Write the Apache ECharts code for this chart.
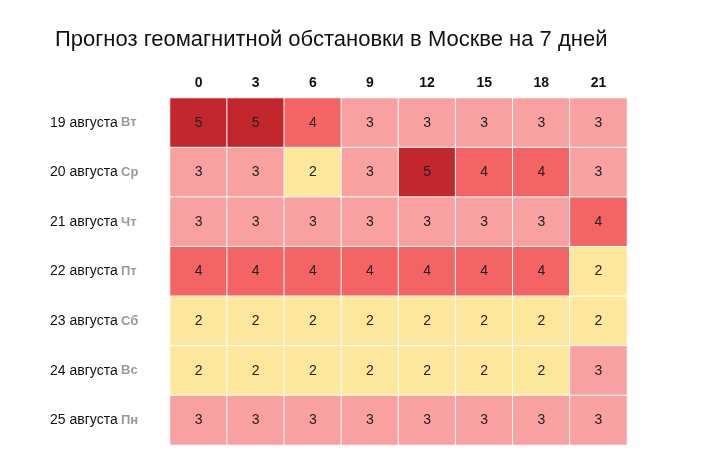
<!DOCTYPE html>
<html lang="ru">
<head>
<meta charset="UTF-8">
<title>Геомагнитная обстановка</title>
<script src="https://cdn.jsdelivr.net/npm/echarts@6/dist/echarts.min.js"></script>
</head>
<body style="margin:0">
<div id="main" style="width:720px;height:469px"></div>
<script>
var hours = ['0', '3', '6', '9', '12', '15', '18', '21'];
var days = ['19 августа', '20 августа', '21 августа', '22 августа', '23 августа', '24 августа', '25 августа'];
var weekdays = ['Вт', 'Ср', 'Чт', 'Пт', 'Сб', 'Вс', 'Пн'];
var kp = [
    [5, 5, 4, 3, 3, 3, 3, 3],
    [3, 3, 2, 3, 5, 4, 4, 3],
    [3, 3, 3, 3, 3, 3, 3, 4],
    [4, 4, 4, 4, 4, 4, 4, 2],
    [2, 2, 2, 2, 2, 2, 2, 2],
    [2, 2, 2, 2, 2, 2, 2, 3],
    [3, 3, 3, 3, 3, 3, 3, 3]
];
var colors = {2: '#fde79d', 3: '#f9a0a0', 4: '#f46464', 5: '#c1272d'};

var data = [];
for (var r = 0; r < kp.length; r++)
    for (var c = 0; c < hours.length; c++)
        data.push({value: [c, r, kp[r][c]], itemStyle: {color: colors[kp[r][c]]}});

var chart = echarts.init(document.getElementById('main'));
chart.setOption({
    animation: false,
    title: {
        text: 'Прогноз геомагнитной обстановки в Москве на 7 дней',
        left: 50, top: 24,
        textStyle: {fontSize: 22, fontWeight: 'normal', color: '#111', fontFamily: 'Arial, Liberation Sans'}
    },
    grid: {left: 170, right: 93, top: 98, bottom: 24},
    xAxis: {
        type: 'category', position: 'top', data: hours,
        axisLine: {show: false}, axisTick: {show: false}, splitArea: {show: false},
        axisLabel: {fontSize: 14, fontWeight: 'bold', color: '#111', margin: 8, fontFamily: 'Arial, Liberation Sans'}
    },
    yAxis: {
        type: 'category', inverse: true, data: days,
        axisLine: {show: false}, axisTick: {show: false},
        axisLabel: {
            align: 'left', margin: 120,
            formatter: function (v, i) { return '{d|' + v + '} {w|' + weekdays[i] + '}'; },
            rich: {
                d: {fontSize: 14, color: '#111', fontFamily: 'Arial, Liberation Sans'},
                w: {fontSize: 13, color: '#999', fontWeight: 'bold', fontFamily: 'Arial, Liberation Sans'}
            }
        }
    },
    series: [{
        type: 'heatmap',
        data: data,
        label: {show: true, formatter: function (p) { return p.value[2]; }, fontSize: 14, color: '#222', fontFamily: 'Arial, Liberation Sans'},
        itemStyle: {borderColor: '#fff', borderWidth: 1}
    }]
});
</script>
</body>
</html>
